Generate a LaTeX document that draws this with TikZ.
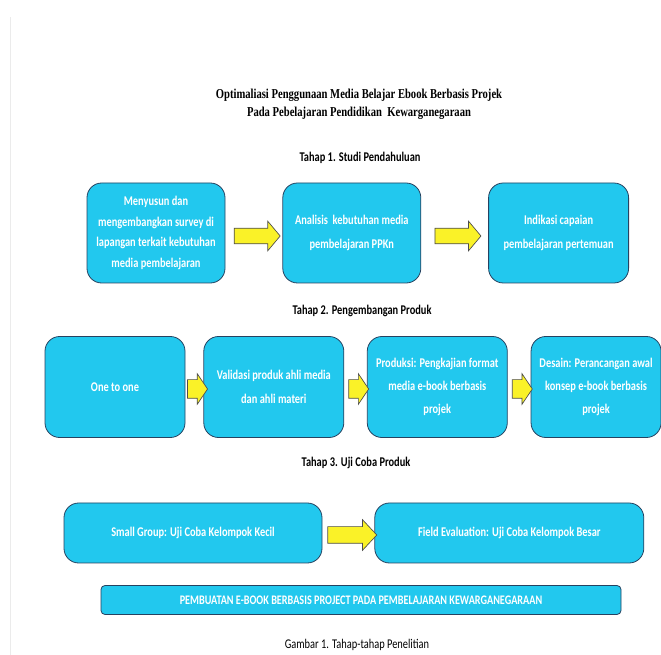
\documentclass[tikz,border=0pt]{standalone}
\usepackage{fontspec}
\setmainfont{Carlito}[FakeStretch=0.78]
\newfontfamily\judulfont{Liberation Serif}[FakeStretch=0.78]
\usepackage{tikz}
\usetikzlibrary{calc, positioning, shapes.arrows}

\definecolor{kotakbiru}{RGB}{34,200,238}
\definecolor{garisbiru}{RGB}{38,66,96}
\definecolor{panahkuning}{RGB}{250,242,40}

\begin{document}
\begin{tikzpicture}[
	x=0.75pt, y=-0.75pt,
	kotak/.style = {draw=garisbiru, line width=0.6pt, fill=kotakbiru, rounded corners=11pt, align=center, text=white, inner sep=2pt, font=\fontsize{10}{17.5}\selectfont\bfseries},
	panah/.style = {single arrow, draw=black!70, fill=panahkuning, line width=0.5pt, inner xsep=0pt},
	tahap/.style = {font=\fontsize{10}{12}\selectfont\bfseries}
]

\useasboundingbox (0,0) rectangle (661,655);
\draw[black!8, line width=0.6pt] (10,17) -- (10,655);

% judul
\node[align=center, font=\judulfont\fontsize{10.2}{13.5}\selectfont\bfseries] (judul) at (359,104)
	{Optimaliasi Penggunaan Media Belajar Ebook Berbasis Projek\\Pada Pebelajaran Pendidikan\ \ Kewarganegaraan};

% tahap 1
\node[tahap] (tahap1) at (360,158) {Tahap 1. Studi Pendahuluan};
\node[kotak, minimum width=103.5pt, minimum height=75pt, font=\fontsize{10}{15.4}\selectfont\bfseries] (survey) at (156,233)
	{Menyusun dan\\mengembangkan survey di\\lapangan terkait kebutuhan\\media pembelajaran};
\node[kotak, minimum width=103.5pt, minimum height=75pt, right=42.75pt of survey] (analisis)
	{Analisis\ \ kebutuhan media\\pembelajaran PPKn};
\node[kotak, minimum width=105pt, minimum height=75pt, right=50.25pt of analisis] (indikasi)
	{Indikasi capaian\\pembelajaran pertemuan};

\scoped[every node/.style = {panah, minimum height=34.5pt, inner ysep=5.6pt, single arrow head extend=5.25pt, single arrow tip angle=100}]
{
\node (panah1) at ($(survey.east)!0.5!(analisis.west)+(0,3)$) {};
\node (panah2) at ($(analisis.east)!0.5!(indikasi.west)+(0,3)$) {};
}

% tahap 2
\node[tahap] (tahap2) at (362,311) {Tahap 2. Pengembangan Produk};
\node[kotak, minimum width=105pt, minimum height=75.75pt] (onetoone) at (115,387) {One to one};
\node[kotak, minimum width=105pt, minimum height=75.75pt, right=13.5pt of onetoone] (validasi)
	{Validasi produk ahli media\\dan ahli materi};
\node[kotak, minimum width=105pt, minimum height=75.75pt, right=17pt of validasi] (produksi)
	{Produksi: Pengkajian format\\media e-book berbasis\\projek};
\node[kotak, minimum width=97.5pt, minimum height=75.75pt, right=17.25pt of produksi] (desain)
	{Desain: Perancangan awal\\konsep e-book berbasis\\projek};

\scoped[every node/.style = {panah, minimum height=15pt, inner ysep=6.75pt, single arrow head extend=4.5pt, single arrow tip angle=112}]
{
\node (panah3) at ($(onetoone.east)!0.5!(validasi.west)+(0,2)$) {};
\node (panah4) at ($(validasi.east)!0.5!(produksi.west)+(0,2)$) {};
\node (panah5) at ($(produksi.east)!0.5!(desain.west)+(0,2)$) {};
}

% tahap 3
\node[tahap] (tahap3) at (356,463) {Tahap 3. Uji Coba Produk};
\node[kotak, minimum width=193.5pt, minimum height=45pt] (smallgroup) at (193,533)
	{Small Group: Uji Coba Kelompok Kecil};
\node[kotak, minimum width=201.75pt, minimum height=45pt, right=39pt of smallgroup] (fieldeval)
	{Field Evaluation: Uji Coba Kelompok Besar};
\node[panah, minimum height=36.75pt, inner ysep=6pt, single arrow head extend=5.25pt, single arrow tip angle=94] (panah6)
	at ($(smallgroup.east)!0.5!(fieldeval.west)+(0,2)$) {};

\node[kotak, rounded corners=3pt, minimum width=390pt, minimum height=21.75pt, font=\fontsize{9.8}{11}\selectfont\bfseries] (pembuatan) at (361,600)
	{PEMBUATAN E-BOOK BERBASIS PROJECT PADA PEMBELAJARAN KEWARGANEGARAAN};

\node[font=\fontsize{10}{12}\selectfont] (gambar) at (357,645) {Gambar 1. Tahap-tahap Penelitian};

\end{tikzpicture}
\end{document}
